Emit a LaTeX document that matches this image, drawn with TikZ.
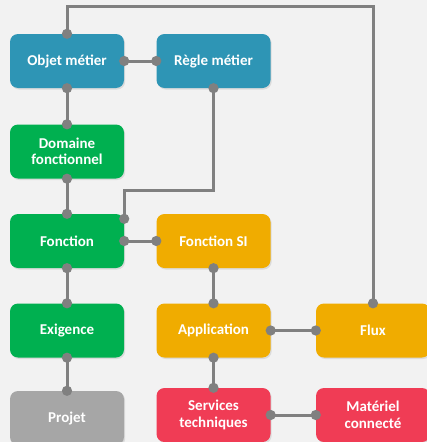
\documentclass[tikz,border=0pt]{standalone}
\usepackage{fontspec}
\setmainfont{Carlito}
\usetikzlibrary{arrows.meta,shadows}

\definecolor{bgc}{HTML}{F2F2F2}
\definecolor{linec}{HTML}{808080}
\definecolor{bluec}{HTML}{2E95B5}
\definecolor{greenc}{HTML}{00B050}
\definecolor{orangec}{HTML}{F0AC00}
\definecolor{redc}{HTML}{F03C55}
\definecolor{grayc}{HTML}{A6A6A6}

\tikzset{
  x=1pt, y=-1pt,
  card/.style={rounded corners=8pt, minimum width=114pt, minimum height=54pt,
    inner sep=0pt, text=white, align=center,
    font=\fontsize{15}{16.5}\selectfont\bfseries,
    drop shadow={opacity=0.2, shadow xshift=1.2pt, shadow yshift=-1.5pt}},
  blue card/.style={card, fill=bluec},
  green card/.style={card, fill=greenc},
  orange card/.style={card, fill=orangec},
  red card/.style={card, fill=redc},
  gray card/.style={card, fill=grayc},
  link/.style={draw=linec, line width=3pt,
    {Circle[length=10pt]}-{Circle[length=10pt]},
    shorten <=-5pt, shorten >=-5pt},
}

\begin{document}
\begin{tikzpicture}
\path[use as bounding box] (0,0) rectangle (427,442);
\clip (0,0) rectangle (427,442);
\fill[bgc] (0,0) rectangle (427,442);

% domain objects
\node[blue card]   (objet)  at (67,61)    {Objet métier};
\node[blue card]   (regle)  at (213.5,61) {Règle métier};
\node[green card]  (domaine) at (67,151.5) {Domaine\\fonctionnel};
\node[green card]  (fonction) at (67,241) {Fonction};
\node[orange card] (fonctsi) at (213.5,241) {Fonction SI};
\node[green card]  (exigence) at (67,330.5) {Exigence};
\node[orange card] (appli) at (213.5,330.5) {Application};
\node[orange card] (flux) at (373,330.5) {Flux};
\node[gray card]   (projet) at (67,418) {Projet};
\node[red card]    (services) at (213.5,415) {Services\\techniques};
\node[red card]    (materiel) at (373,415) {Matériel\\connecté};

% links
\coordinate (topleft) at (67,6);
\coordinate (fcorner) at ([yshift=-5pt]fonction.north east);
\path[link] (objet.north) -- (topleft) -| (flux.north);
\path[link] (objet.east) -- (regle.west);
\path[link] (objet.south) -- (domaine.north);
\path[link] (domaine.south) -- (fonction.north);
\path[link] (regle.south) -- ++(0,102) -| (fcorner);
\path[link] (fonction.east) -- (fonctsi.west);
\path[link] (fonction.south) -- (exigence.north);
\path[link] (fonctsi.south) -- (appli.north);
\path[link] (appli.east) -- (flux.west);
\path[link] (exigence.south) -- (projet.north);
\path[link] (appli.south) -- (services.north);
\path[link] (services.east) -- (materiel.west);
\end{tikzpicture}
\end{document}
